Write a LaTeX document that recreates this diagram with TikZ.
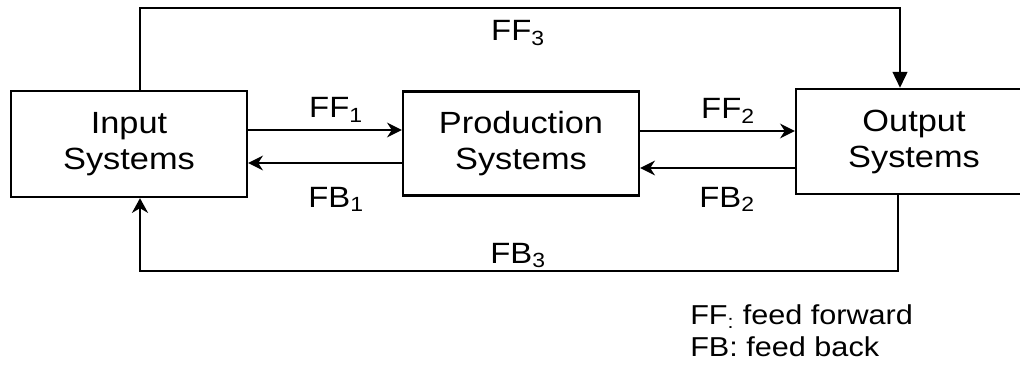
\documentclass[tikz,border=0pt]{standalone}
\usepackage{fontspec}
\setmainfont[FakeStretch=1.12]{Liberation Sans}
\usetikzlibrary{arrows.meta}
\begin{document}
\begin{tikzpicture}[x=0.75pt,y=-0.75pt,
  box/.style={draw, line width=1.8pt, inner sep=0pt, align=center, minimum width=177pt,
    font=\fontsize{23}{27}\selectfont},
  lbl/.style={inner sep=0pt, anchor=base, font=\fontsize{22}{26}\selectfont},
  legend/.style={inner sep=0pt, anchor=base west, font=\fontsize{20.5}{24}\selectfont},
  conn/.style={line width=1.8pt, -{Stealth[length=11pt,width=11pt,inset=3.5pt]}},
  loop/.style={line width=1.8pt}
]
\useasboundingbox (0,0) rectangle (1020,367);
\clip (0,0) rectangle (1020,367);

\node[box, minimum height=79.5pt] (input) at (129,144) {Input\\Systems};
\node[box, minimum height=78pt] (production) at (521,143.5) {Production\\Systems};
\node[box, minimum height=78.75pt] (output) at (914,141.5) {Output\\Systems};

\coordinate (y1) at (0,130);
\coordinate (y2) at (0,163);
\coordinate (y3) at (0,131);
\coordinate (y4) at (0,168);
\draw[conn] (input.east |- y1) -- (production.west |- y1);
\draw[conn] (production.west |- y2) -- (input.east |- y2);
\draw[conn] (production.east |- y3) -- (output.west |- y3);
\draw[conn] (output.west |- y4) -- (production.east |- y4);

\coordinate (tl) at (140,8);
\coordinate (tr) at (900,8);
\draw[loop, -{Triangle[length=12pt,width=11pt]}] (input.north -| tl) -- (tl) -- (tr) -- (output.north -| tr);

\coordinate (br) at (898,271);
\coordinate (bl) at (140,271);
\draw[loop, -{Stealth[length=11pt,width=12pt,inset=3.5pt]}] (output.south -| br) -- (br) -- (bl) -- (input.south -| bl);

\node[lbl] (ff1) at (336,118) {FF\textsubscript{1}};
\node[lbl] (fb1) at (336,207) {FB\textsubscript{1}};
\node[lbl] (ff2) at (728,119) {FF\textsubscript{2}};
\node[lbl] (fb2) at (727,207) {FB\textsubscript{2}};
\node[lbl] (ff3) at (518,41) {FF\textsubscript{3}};
\node[lbl] (fb3) at (518,263) {FB\textsubscript{3}};

\node[legend] (leg1) at (690,324) {FF\textsubscript{:} feed forward};
\node[legend] (leg2) at (690,356) {FB: feed back};
\end{tikzpicture}
\end{document}
